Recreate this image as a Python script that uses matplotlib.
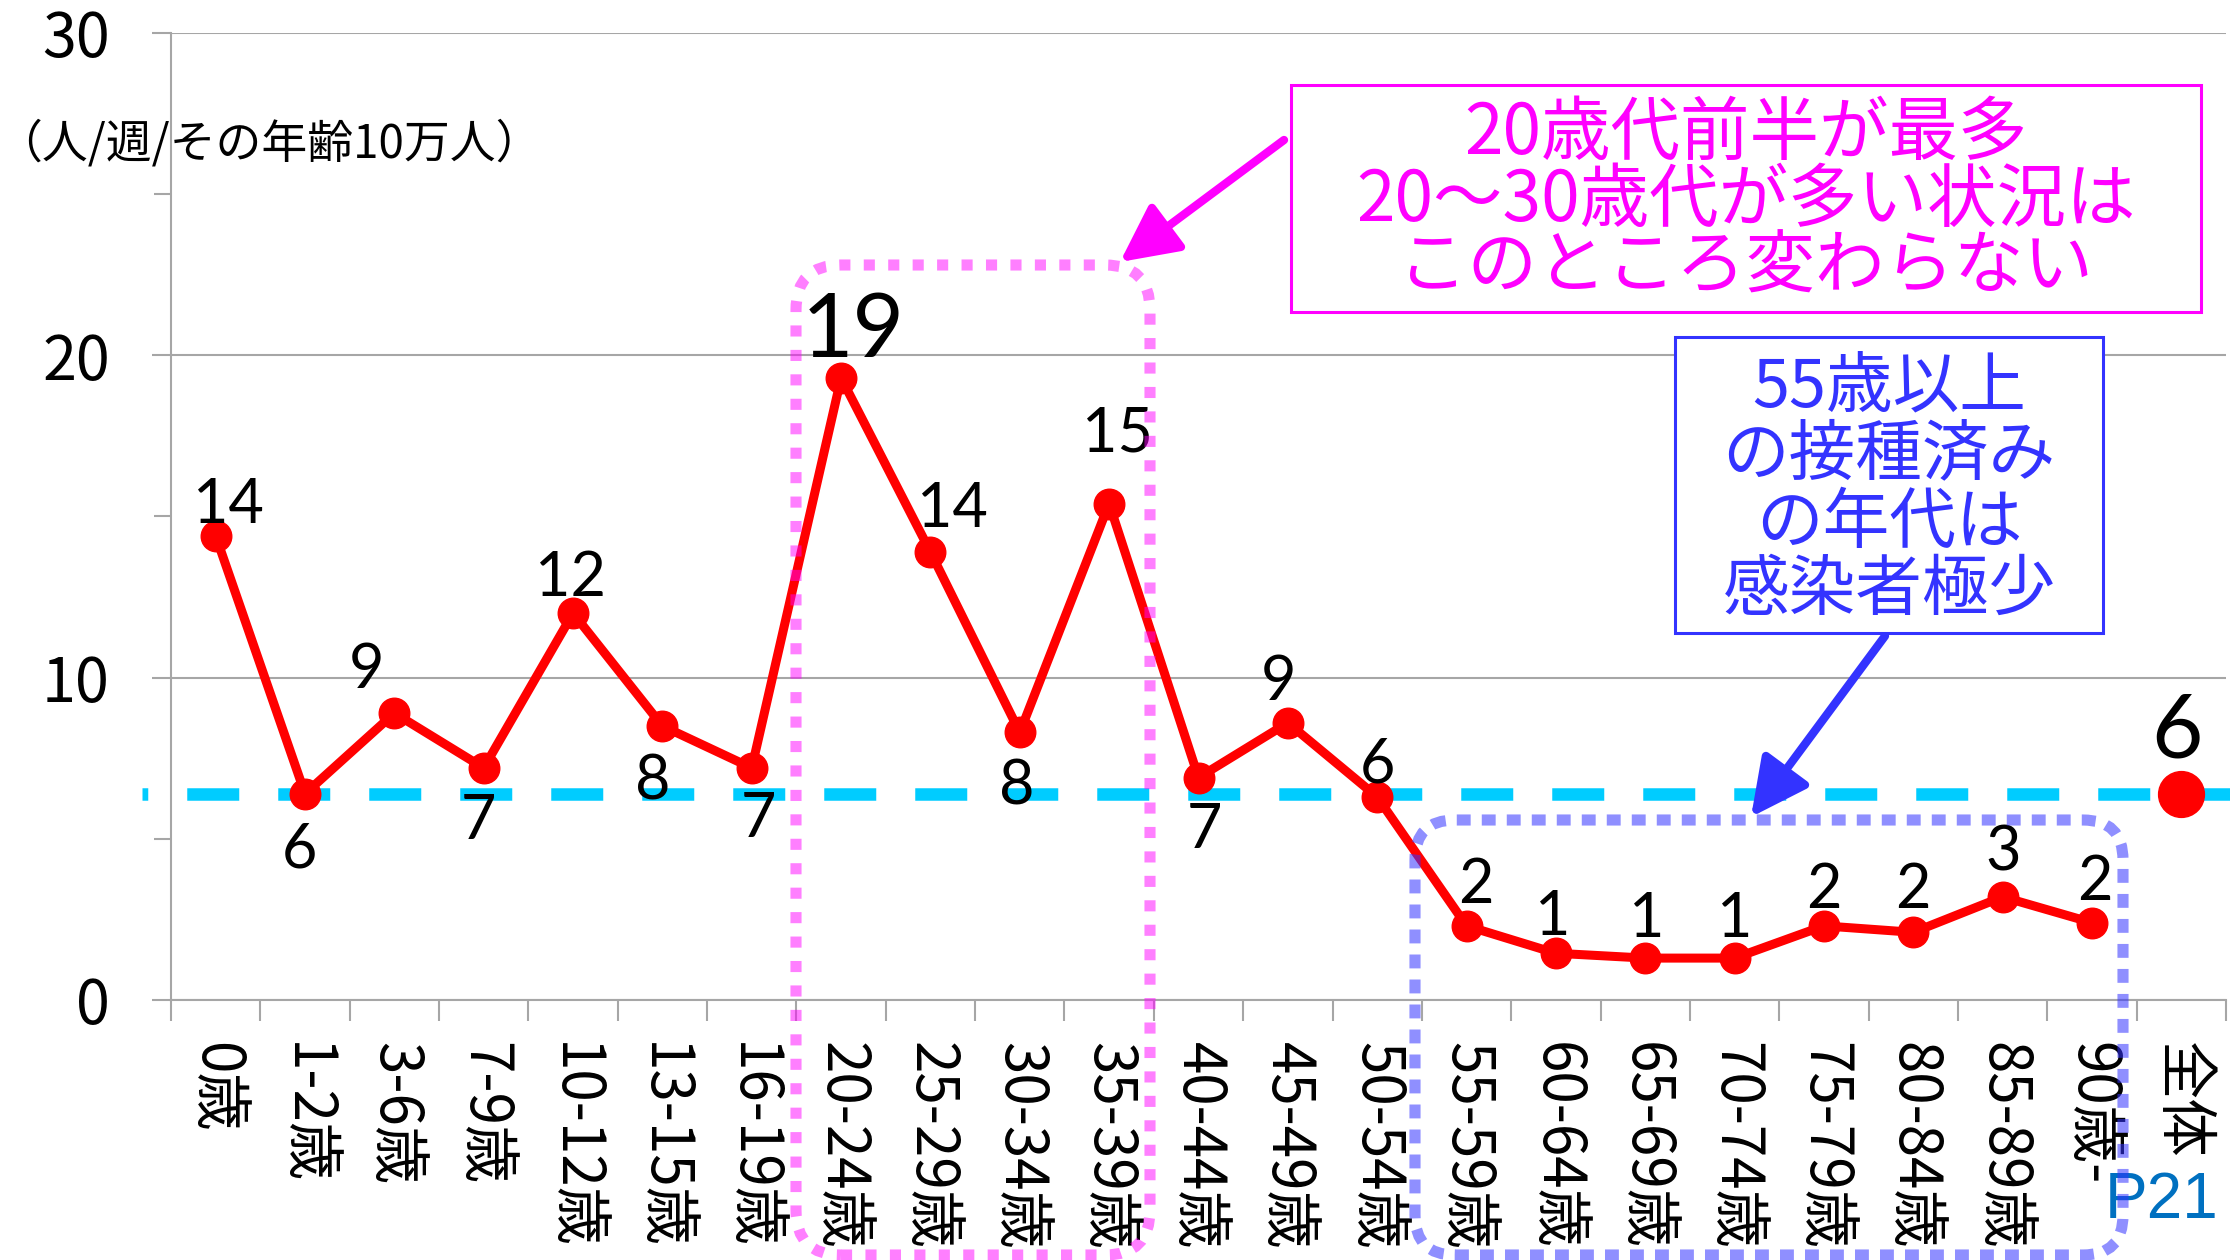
import matplotlib
matplotlib.use('Agg')
import matplotlib.pyplot as plt
from matplotlib.patches import FancyBboxPatch, Rectangle
from matplotlib.transforms import IdentityTransform
from matplotlib.ticker import MultipleLocator, FixedLocator

plt.rcParams['font.family'] = ['Noto Sans CJK JP', 'DejaVu Sans']

# データ（人/週/その年齢10万人）
categories = ['0歳', '1-2歳', '3-6歳', '7-9歳', '10-12歳', '13-15歳', '16-19歳',
              '20-24歳', '25-29歳', '30-34歳', '35-39歳', '40-44歳', '45-49歳',
              '50-54歳', '55-59歳', '60-64歳', '65-69歳', '70-74歳', '75-79歳',
              '80-84歳', '85-89歳', '90歳-', '全体']
values = [14.4, 6.4, 8.9, 7.2, 12.0, 8.5, 7.2, 19.3, 13.9, 8.3, 15.4, 6.9,
          8.6, 6.3, 2.3, 1.45, 1.3, 1.3, 2.3, 2.1, 3.2, 2.4]
total = 6.4
yticks = [0, 10, 20, 30]

# ラベル位置の調整（ポイント）
label_dx = [9, -4, -20, -4, -2, -7, 5, 9, 16, -2, 6, 4, -7, 0, 7, -2, 1, 0, 0, 0, 0, 2]
label_dy = [25, -37, 34, -35, 28, -37, -34, 38, 34, -36, 53, -35, 32, 26, 32, 29, 31, 31, 29, 33, 35, 32]

W, H = 2230, 1260
fig = plt.figure(figsize=(W / 100, H / 100), dpi=100)
ax = fig.add_axes([171 / W, 260 / H, 2055 / W, 967 / H])

gray = '#A6A6A6'
ax.set_xlim(-0.5, len(categories) - 0.5)
ax.set_ylim(0, 30)
ax.set_yticks(yticks)
ax.yaxis.set_minor_locator(MultipleLocator(5))
ax.tick_params(axis='y', which='major', labelsize=44, length=14, width=1.5, color=gray, pad=30)
ax.tick_params(axis='y', which='minor', length=12, width=1.5, color=gray)
ax.yaxis.grid(True, color=gray, lw=1.5)
ax.set_axisbelow(True)

ax.set_xticks(range(len(categories)))
ax.set_xticklabels(categories, rotation=-90, fontsize=42)
ax.xaxis.set_minor_locator(FixedLocator([i - 0.5 for i in range(len(categories) + 1)]))
ax.tick_params(axis='x', which='major', length=0, pad=30)
ax.tick_params(axis='x', which='minor', length=15, width=1.5, color=gray)
for s in ['top', 'right']:
    ax.spines[s].set_visible(False)
for s in ['left', 'bottom']:
    ax.spines[s].set_color(gray)
    ax.spines[s].set_linewidth(1.5)

# 全体平均の点線
ax.plot([-0.82, len(categories) - 0.45], [total, total], color='#00CCFF', lw=9,
        ls=(3.7, (4.16, 3.12)), clip_on=False, zorder=3, solid_capstyle='butt')

x = list(range(len(values)))
ax.plot(x, values, color='red', lw=6.5, marker='o', ms=22, zorder=5, clip_on=False)
ax.plot([len(categories) - 1], [total], color='red', marker='o', ms=33, zorder=5,
        clip_on=False)

vmax = max(values)
for i, v in enumerate(values):
    fs = 64 if v == vmax else 44
    ax.annotate(f'{v:.0f}', (i, v), xytext=(label_dx[i], label_dy[i] - 0.36 * fs),
                textcoords='offset points', ha='center', va='baseline',
                fontsize=fs, family='Lato', zorder=6)
ax.annotate(f'{total:.0f}', (len(categories) - 1, total), xytext=(-3, 49 - 0.36 * 64),
            textcoords='offset points', ha='center', va='baseline',
            fontsize=64, family='Lato', zorder=6)


def px(xp, yp):
    return xp, H - yp


# 単位
fig.text(*px(-4, 144), '（人/週/その年齢10万人）', fontsize=33, ha='left', va='center',
         transform=IdentityTransform())

# 点線の囲み
pink_dot = FancyBboxPatch(px(796, 1255), 1150 - 796, 1255 - 265,
                          boxstyle='round,pad=0,rounding_size=45',
                          transform=IdentityTransform(), fill=False,
                          ec='#FF00FF', alpha=0.5, lw=8, ls=(0, (1.0, 1.2)), zorder=7)
blue_dot = FancyBboxPatch(px(1415, 1255), 2123 - 1415, 1255 - 820,
                          boxstyle='round,pad=0,rounding_size=40',
                          transform=IdentityTransform(), fill=False,
                          ec='#3333FF', alpha=0.55, lw=8, ls=(0, (1.25, 1.0)), zorder=7)
fig.add_artist(pink_dot)
fig.add_artist(blue_dot)

# コメント枠
pink_box = Rectangle(px(1291, 312), 2201 - 1291, 312 - 85, transform=IdentityTransform(),
                     fc='white', ec='#FF00FF', lw=2.2, zorder=8)
blue_box = Rectangle(px(1675, 633), 2103 - 1675, 633 - 337, transform=IdentityTransform(),
                     fc='white', ec='#3333FF', lw=2.2, zorder=8)
fig.add_artist(pink_box)
fig.add_artist(blue_box)

pink_lines = ['20歳代前半が最多', '20～30歳代が多い状況は', 'このところ変わらない']
for t, yy in zip(pink_lines, [134, 201, 268]):
    fig.text(*px(1746, yy), t, fontsize=50, color='#FF00FF', ha='center', va='center',
             transform=IdentityTransform(), zorder=9)
blue_lines = ['55歳以上', 'の接種済み', 'の年代は', '感染者極少']
for t, yy in zip(blue_lines, [388, 456, 524, 591]):
    fig.text(*px(1889, yy), t, fontsize=48, color='#3333FF', ha='center', va='center',
             transform=IdentityTransform(), zorder=9)

# 矢印
ax.annotate('', xy=px(1120, 262), xytext=px(1284, 140), xycoords='figure pixels',
            textcoords='figure pixels', annotation_clip=False,
            arrowprops=dict(arrowstyle='-|>,head_length=0.5,head_width=0.25',
                            mutation_scale=70, color='#FF00FF', lw=6,
                            shrinkA=0, shrinkB=0))
ax.annotate('', xy=px(1751, 817), xytext=px(1885, 636), xycoords='figure pixels',
            textcoords='figure pixels', annotation_clip=False,
            arrowprops=dict(arrowstyle='-|>,head_length=0.5,head_width=0.25',
                            mutation_scale=70, color='#3333FF', lw=6,
                            shrinkA=0, shrinkB=0))

fig.text(*px(2218, 1201), 'P21', fontsize=46, color='#0070C0', ha='right', va='center',
         family='Liberation Sans', transform=IdentityTransform())

fig.savefig('out.png', dpi=100)
